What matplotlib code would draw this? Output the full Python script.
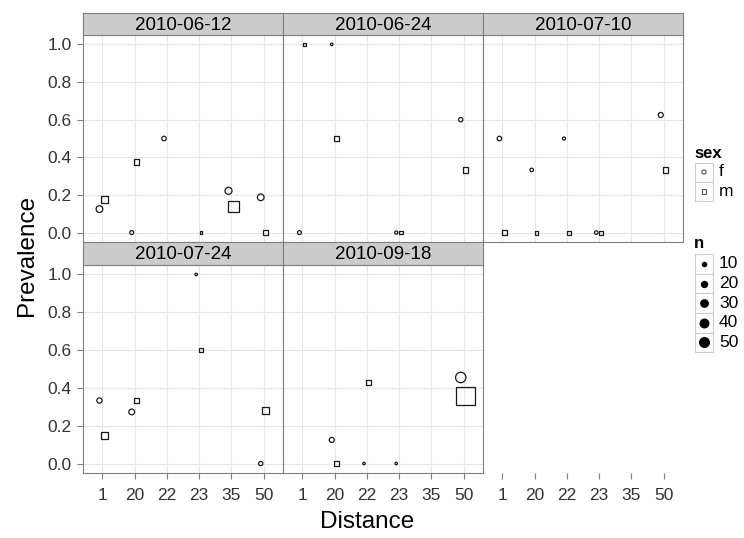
import numpy as np
import matplotlib.pyplot as plt
from matplotlib.patches import Rectangle

plt.rcParams['font.family'] = ['Liberation Sans', 'DejaVu Sans']

# facets and x categories
dates = ['2010-06-12', '2010-06-24', '2010-07-10', '2010-07-24', '2010-09-18']
distances = ['1', '20', '22', '23', '35', '50']

# one entry per point
pt_date = (['2010-06-12'] * 10 + ['2010-06-24'] * 8 + ['2010-07-10'] * 10
           + ['2010-07-24'] * 8 + ['2010-09-18'] * 7)
pt_dist = ['1', '1', '20', '20', '22', '23', '35', '35', '50', '50',
           '1', '1', '20', '20', '23', '23', '50', '50',
           '1', '1', '20', '20', '22', '22', '23', '23', '50', '50',
           '1', '1', '20', '20', '23', '23', '50', '50',
           '20', '20', '22', '22', '23', '50', '50']
pt_sex = ['f', 'm', 'f', 'm', 'f', 'm', 'f', 'm', 'f', 'm',
          'f', 'm', 'f', 'm', 'f', 'm', 'f', 'm',
          'f', 'm', 'f', 'm', 'f', 'm', 'f', 'm', 'f', 'm',
          'f', 'm', 'f', 'm', 'f', 'm', 'f', 'm',
          'f', 'm', 'f', 'm', 'f', 'f', 'm']
pt_prev = [0.125, 0.176, 0.0, 0.375, 0.5, 0.0, 0.222, 0.14, 0.1875, 0.0,
           0.0, 1.0, 1.0, 0.5, 0.0, 0.0, 0.6, 0.333,
           0.5, 0.0, 0.333, 0.0, 0.5, 0.0, 0.0, 0.0, 0.625, 0.333,
           0.333, 0.15, 0.273, 0.333, 1.0, 0.6, 0.0, 0.278,
           0.125, 0.0, 0.0, 0.429, 0.0, 0.455, 0.358]
pt_n = [16, 17, 4, 8, 6, 1, 18, 50, 16, 9,
        4, 3, 1, 6, 2, 3, 5, 9,
        6, 8, 3, 4, 2, 4, 3, 4, 8, 9,
        9, 20, 11, 6, 1, 5, 5, 18,
        8, 5, 1, 7, 1, 44, 150]

size_breaks = [10, 20, 30, 40, 50]
sex_levels = ['f', 'm']
sex_marker = {'f': 'o', 'm': 's'}
dodge = {'f': -0.09, 'm': 0.06}

W, H = 744, 538


def diam_px(n):
    return 1.4 * np.sqrt(n) + 1.1


def area(n):
    return (diam_px(n) * 72 / 100) ** 2


def px_axes(x0, y0, x1, y1):
    return fig.add_axes([x0 / W, 1 - y1 / H, (x1 - x0) / W, (y1 - y0) / H])


fig = plt.figure(figsize=(W / 100, H / 100), dpi=100)

border = '#7F7F7F'
strip_top = [13, 242]
panel_top = [35, 265]
panel_bot = [242, 473]

pt_date = np.array(pt_date)
pt_sex = np.array(pt_sex)
pt_prev = np.array(pt_prev)
pt_n = np.array(pt_n)
xpos = np.array([distances.index(d) for d in pt_dist], dtype=float)

for k, date in enumerate(dates):
    r, c = divmod(k, 3)
    x0 = 83 + 200 * c
    ax = px_axes(x0, panel_top[r], x0 + 200, panel_bot[r])
    ax.set_xlim(-0.6, len(distances) - 0.4)
    ax.set_ylim(-0.05, 1.05)
    ax.set_xticks(range(len(distances)))
    ax.set_yticks(np.arange(0, 1.01, 0.2))
    ax.grid(True, color='#E6E6E6', lw=0.8)
    ax.set_axisbelow(True)
    for s in ax.spines.values():
        s.set_color(border)
        s.set_linewidth(0.8)
    ax.tick_params(colors=border, length=4, width=0.8, labelcolor='#333333',
                   labelsize=12.5)
    ax.tick_params(axis='x', pad=7)
    ax.tick_params(axis='y', pad=4)
    if c == 0:
        ax.set_yticklabels([f'{v:.1f}' for v in np.arange(0, 1.01, 0.2)])
    else:
        ax.tick_params(axis='y', left=False, labelleft=False)
    if r == 1:
        ax.set_xticklabels(distances)
    else:
        ax.tick_params(axis='x', bottom=False, labelbottom=False)

    for sex in sex_levels:
        m = (pt_date == date) & (pt_sex == sex)
        ax.scatter(xpos[m] + dodge[sex], pt_prev[m], s=area(pt_n[m]),
                   marker=sex_marker[sex], facecolors='none',
                   edgecolors='#1A1A1A', linewidths=0.9, zorder=3)

    st = px_axes(x0, strip_top[r], x0 + 200, panel_top[r])
    st.set_facecolor('#CCCCCC')
    st.set_xticks([])
    st.set_yticks([])
    for s in st.spines.values():
        s.set_color(border)
        s.set_linewidth(0.8)
    st.text(0.5, 0.45, date, ha='center', va='center', fontsize=13.5,
            transform=st.transAxes)

# x axis of the empty slot
ea = px_axes(483, panel_top[1], 683, panel_bot[1])
ea.set_xlim(-0.6, len(distances) - 0.4)
ea.set_xticks(range(len(distances)))
ea.set_xticklabels(distances)
ea.set_yticks([])
ea.patch.set_visible(False)
for s in ea.spines.values():
    s.set_visible(False)
ea.tick_params(colors=border, length=4, width=0.8, labelcolor='#333333',
               labelsize=12.5, pad=7)

# axis titles and legends
ov = fig.add_axes([0, 0, 1, 1], zorder=10)
ov.set_xlim(0, W)
ov.set_ylim(H, 0)
ov.axis('off')
ov.patch.set_visible(False)

ov.text(367, 522, 'Distance', ha='center', va='center', fontsize=17.5)
ov.text(27, 255, 'Prevalence', ha='center', va='center', fontsize=17.5,
        rotation=90)

ov.text(694, 153, 'sex', ha='left', va='center', fontsize=12, weight='bold')
for i, sex in enumerate(sex_levels):
    cy = 172 + 19.5 * i
    ov.add_patch(Rectangle((695, cy - 9.5), 18, 19, facecolor='white',
                           edgecolor='#CCCCCC', lw=0.8))
    ov.scatter([704], [cy], s=area(5), marker=sex_marker[sex],
               facecolors='none', edgecolors='#555555', linewidths=0.8)
    ov.text(719, cy, sex, ha='left', va='center', fontsize=12.5)

ov.text(694, 244, 'n', ha='left', va='center', fontsize=12, weight='bold')
for i, nb in enumerate(size_breaks):
    cy = 264 + 19.6 * i
    ov.add_patch(Rectangle((695, cy - 9.8), 18, 19.6, facecolor='white',
                           edgecolor='#CCCCCC', lw=0.8))
    ov.scatter([704], [cy], s=area(nb), marker='o', color='black', lw=0)
    ov.text(719, cy, str(nb), ha='left', va='center', fontsize=12.5)

fig.savefig('out.png', dpi=100)
